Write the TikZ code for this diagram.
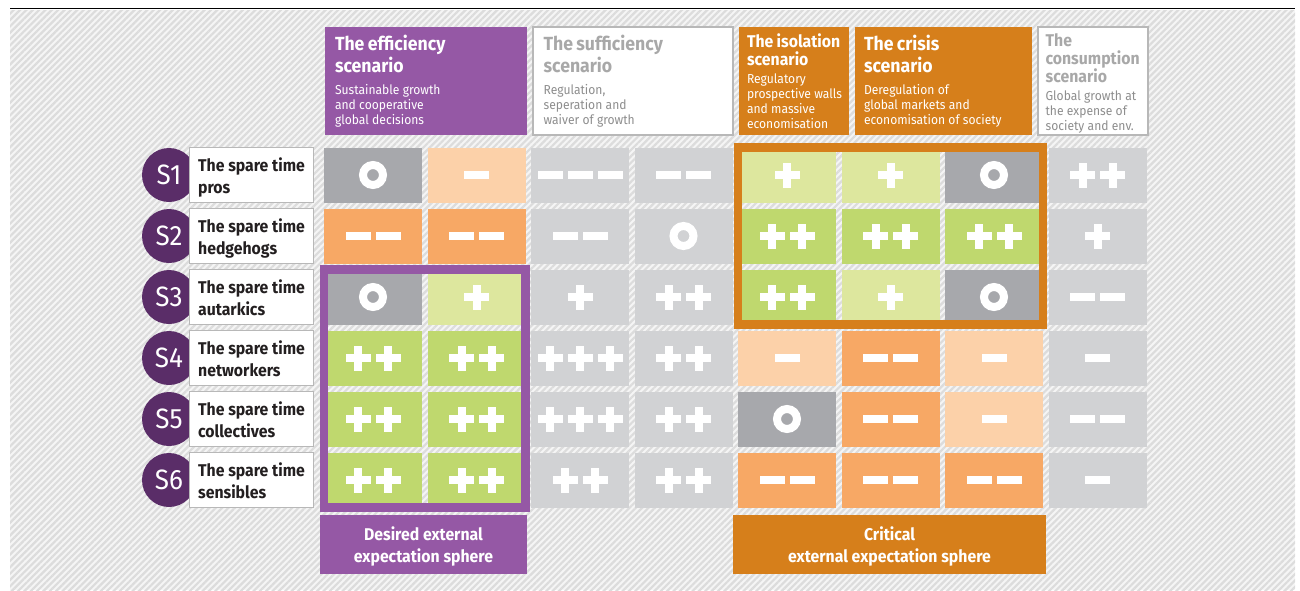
\documentclass[tikz,border=0pt]{standalone}
\usepackage{fontspec}
\setmainfont{Fira Sans}[FakeStretch=0.93]
\usetikzlibrary{positioning, patterns.meta}

\definecolor{effpurple}{HTML}{9558A5}
\definecolor{sdark}{HTML}{5A2D68}
\definecolor{isoorange}{HTML}{D67F1B}
\definecolor{lorange}{HTML}{FCD1A9}
\definecolor{morange}{HTML}{F7A865}
\definecolor{lgreen}{HTML}{DDE79E}
\definecolor{mgreen}{HTML}{BFD86E}
\definecolor{dgray}{HTML}{A7A8AC}
\definecolor{lgray}{HTML}{D1D2D4}
\definecolor{boxline}{HTML}{B8B8B8}
\definecolor{greytitle}{HTML}{A8A8A8}
\definecolor{greysub}{HTML}{8E8E8E}
\definecolor{stripe}{HTML}{DCDCDC}
\definecolor{labeltext}{HTML}{231F20}

\newcommand{\ttlbig}{\fontsize{19}{22}\selectfont\bfseries}
\newcommand{\ttlsmall}{\fontsize{17}{18}\selectfont\bfseries}
\newcommand{\subtxt}{\fontsize{13}{15}\selectfont}
\newcommand{\plusmark}[1]{%
  \fill[white] ([shift={(#1-12.5,-4)}]path picture bounding box.center) rectangle ++(25,8);
  \fill[white] ([shift={(#1-4,-12.5)}]path picture bounding box.center) rectangle ++(8,25);}
\newcommand{\minusmark}[1]{%
  \fill[white] ([shift={(#1-12.5,-3.75)}]path picture bounding box.center) rectangle ++(25,7.5);}

\begin{document}
\begin{tikzpicture}[x=1pt, y=-1pt, node distance=61pt and 103.5pt, on grid,
    cell/.style={rectangle, minimum width=98pt, minimum height=55pt, inner sep=0pt},
    lab/.style={rectangle, draw=boxline, line width=1.2pt, fill=white, minimum width=124pt,
      minimum height=55pt, inner sep=0pt, align=left, text=labeltext, text height=37pt,
      text depth=0pt, font=\fontsize{17}{22}\selectfont\bfseries},
    snum/.style={circle, fill=sdark, minimum size=54pt, inner sep=0pt, text=white,
      font=\fontsize{28}{28}\selectfont},
    scen/.style={rectangle, minimum height=108pt, inner sep=0pt},
    scentext/.style={anchor=west, inner sep=0pt, align=left, text width=#1},
    sphere/.style={rectangle, minimum height=59pt, inner sep=0pt, align=center, text=white,
      text depth=0pt, font=\fontsize{17}{22}\selectfont\bfseries},
    plusone/.style={path picture={\plusmark{0}}},
    plustwo/.style={path picture={\plusmark{-15}\plusmark{15}}},
    plusthree/.style={path picture={\plusmark{-30}\plusmark{0}\plusmark{30}}},
    minone/.style={path picture={\minusmark{0}}},
    mintwo/.style={path picture={\minusmark{-15}\minusmark{15}}},
    minthree/.style={path picture={\minusmark{-30}\minusmark{0}\minusmark{30}}},
    zero/.style={path picture={\draw[white, line width=8pt] (path picture bounding box.center) circle (10pt);}}]
  % background
  \useasboundingbox (0,0) rectangle (1300,590);
  \fill[white!96!black] (10,10) rectangle (1295,590);
  \fill[pattern={Lines[angle=45, distance=4.5pt, line width=2.2pt]}, pattern color=stripe] (10,10) rectangle (1295,590);
  \draw[line width=1.5pt] (10,8.5) -- (1295,8.5);

  % scenarios
  \node[scen, fill=effpurple, minimum width=202pt] (effbox) at (426,81) {};
  \node[scentext=190pt, text=white] (efftext) at ([xshift=10pt]effbox.west)
    {{\ttlbig The efficiency\\scenario\par}\vspace{7pt}{\subtxt Sustainable growth\\and cooperative\\global decisions\par}};
  \node[scen, draw=boxline, line width=1.2pt, fill=white, minimum width=200pt] (sufbox) at (633,81) {};
  \node[scentext=190pt, text=greytitle] (suftext) at ([xshift=11pt]sufbox.west)
    {{\ttlbig The sufficiency\\scenario\par}\vspace{7pt}{\subtxt\color{greysub} Regulation,\\seperation and\\waiver of growth\par}};
  \node[scen, fill=isoorange, minimum width=110pt] (isobox) at (794,81) {};
  \node[scentext=130pt, text=white] (isotext) at ([xshift=8pt]isobox.west)
    {{\ttlsmall The isolation\\scenario\par}\vspace{3pt}{\subtxt Regulatory\\prospective walls\\and massive\\economisation\par}};
  \node[scen, fill=isoorange, minimum width=177pt] (cribox) at (943.5,81) {};
  \node[scentext=180pt, text=white] (critext) at ([xshift=9pt]cribox.west)
    {{\ttlbig The crisis\\scenario\par}\vspace{7pt}{\subtxt Deregulation of\\global markets and\\economisation of society\par}};
  \node[scen, draw=boxline, line width=1.2pt, fill=white, minimum width=110pt] (conbox) at (1093,81) {};
  \node[scentext=130pt, text=greytitle] (context) at ([xshift=8pt, yshift=-2.5pt]conbox.west)
    {{\ttlsmall The\\consumption\\scenario\par}\vspace{3pt}{\subtxt\color{greysub} Global growth at\\the expense of\\society and env.\par}};

  % S1
  \node[snum] (s1) at (169,175) {S1};
  \node[lab, right=82.5pt of s1] (l1) {The spare time\\pros};
  \node[cell, fill=dgray, zero, right=121.5pt of l1] (c11) {};
  \node[cell, fill=lorange, minone, right=of c11] (c12) {};
  \node[cell, fill=lgray, minthree, right=of c12] (c13) {};
  \node[cell, fill=lgray, mintwo, right=of c13] (c14) {};
  \node[cell, fill=lgreen, plusone, right=of c14] (c15) {};
  \node[cell, fill=lgreen, plusone, right=of c15] (c16) {};
  \node[cell, fill=dgray, zero, right=of c16] (c17) {};
  \node[cell, fill=lgray, plustwo, right=of c17] (c18) {};
  % S2
  \node[snum, below=of s1] (s2) {S2};
  \node[lab, right=82.5pt of s2] (l2) {The spare time\\hedgehogs};
  \node[cell, fill=morange, mintwo, right=121.5pt of l2] (c21) {};
  \node[cell, fill=morange, mintwo, right=of c21] (c22) {};
  \node[cell, fill=lgray, mintwo, right=of c22] (c23) {};
  \node[cell, fill=lgray, zero, right=of c23] (c24) {};
  \node[cell, fill=mgreen, plustwo, right=of c24] (c25) {};
  \node[cell, fill=mgreen, plustwo, right=of c25] (c26) {};
  \node[cell, fill=mgreen, plustwo, right=of c26] (c27) {};
  \node[cell, fill=lgray, plusone, right=of c27] (c28) {};
  % S3
  \node[snum, below=of s2] (s3) {S3};
  \node[lab, right=82.5pt of s3] (l3) {The spare time\\autarkics};
  \node[cell, fill=dgray, zero, right=121.5pt of l3] (c31) {};
  \node[cell, fill=lgreen, plusone, right=of c31] (c32) {};
  \node[cell, fill=lgray, plusone, right=of c32] (c33) {};
  \node[cell, fill=lgray, plustwo, right=of c33] (c34) {};
  \node[cell, fill=mgreen, plustwo, right=of c34] (c35) {};
  \node[cell, fill=lgreen, plusone, right=of c35] (c36) {};
  \node[cell, fill=dgray, zero, right=of c36] (c37) {};
  \node[cell, fill=lgray, mintwo, right=of c37] (c38) {};
  % S4
  \node[snum, below=of s3] (s4) {S4};
  \node[lab, right=82.5pt of s4] (l4) {The spare time\\networkers};
  \node[cell, fill=mgreen, plustwo, right=121.5pt of l4] (c41) {};
  \node[cell, fill=mgreen, plustwo, right=of c41] (c42) {};
  \node[cell, fill=lgray, plusthree, right=of c42] (c43) {};
  \node[cell, fill=lgray, plustwo, right=of c43] (c44) {};
  \node[cell, fill=lorange, minone, right=of c44] (c45) {};
  \node[cell, fill=morange, mintwo, right=of c45] (c46) {};
  \node[cell, fill=lorange, minone, right=of c46] (c47) {};
  \node[cell, fill=lgray, minone, right=of c47] (c48) {};
  % S5
  \node[snum, below=of s4] (s5) {S5};
  \node[lab, right=82.5pt of s5] (l5) {The spare time\\collectives};
  \node[cell, fill=mgreen, plustwo, right=121.5pt of l5] (c51) {};
  \node[cell, fill=mgreen, plustwo, right=of c51] (c52) {};
  \node[cell, fill=lgray, plusthree, right=of c52] (c53) {};
  \node[cell, fill=lgray, plustwo, right=of c53] (c54) {};
  \node[cell, fill=dgray, zero, right=of c54] (c55) {};
  \node[cell, fill=morange, mintwo, right=of c55] (c56) {};
  \node[cell, fill=lorange, minone, right=of c56] (c57) {};
  \node[cell, fill=lgray, mintwo, right=of c57] (c58) {};
  % S6
  \node[snum, below=of s5] (s6) {S6};
  \node[lab, right=82.5pt of s6] (l6) {The spare time\\sensibles};
  \node[cell, fill=mgreen, plustwo, right=121.5pt of l6] (c61) {};
  \node[cell, fill=mgreen, plustwo, right=of c61] (c62) {};
  \node[cell, fill=lgray, plustwo, right=of c62] (c63) {};
  \node[cell, fill=lgray, plustwo, right=of c63] (c64) {};
  \node[cell, fill=morange, mintwo, right=of c64] (c65) {};
  \node[cell, fill=morange, mintwo, right=of c65] (c66) {};
  \node[cell, fill=morange, mintwo, right=of c66] (c67) {};
  \node[cell, fill=lgray, minone, right=of c67] (c68) {};

  % spheres
  \draw[effpurple, line width=8.5pt] (c31.north west) rectangle (c62.south east);
  \draw[isoorange, line width=8.5pt] (c15.north west) rectangle (c37.south east);
  \node[sphere, fill=effpurple, minimum width=207pt] (desired) at (423.5,544.5) {Desired external\\expectation sphere};
  \node[sphere, fill=isoorange, minimum width=313pt] (critical) at (889.5,544.5) {Critical\\external expectation sphere};
\end{tikzpicture}
\end{document}
